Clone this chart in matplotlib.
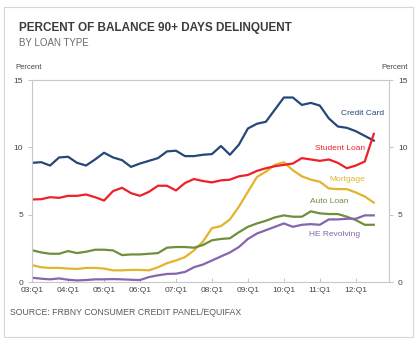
import matplotlib.pyplot as plt
from matplotlib.patches import Rectangle

# quarters 03:Q1 .. 12:Q3
QUARTERS = [f"{y:02d}:Q{q}" for y in range(3, 13) for q in range(1, 5)][:39]
TICK_LABELS = [f"{y:02d}:Q1" for y in range(3, 13)]

credit_card = [8.85, 8.9, 8.65, 9.25, 9.3, 8.85, 8.65, 9.1, 9.6, 9.25,
               9.05, 8.55, 8.8, 9.0, 9.2, 9.7, 9.75, 9.35, 9.35, 9.45,
               9.5, 10.1, 9.45, 10.2, 11.4, 11.75, 11.9, 12.8, 13.7, 13.7,
               13.15, 13.3, 13.1, 12.15, 11.55, 11.45, 11.2, 10.85, 10.5]
student_loan = [6.13, 6.15, 6.3, 6.25, 6.4, 6.4, 6.5, 6.3, 6.05, 6.75,
                7.0, 6.6, 6.4, 6.7, 7.15, 7.15, 6.8, 7.35, 7.65, 7.5,
                7.4, 7.55, 7.6, 7.85, 7.95, 8.25, 8.45, 8.6, 8.7, 8.8,
                9.2, 9.1, 9.0, 9.1, 8.85, 8.45, 8.65, 8.95, 11.0]
mortgage = [1.25, 1.1, 1.05, 1.05, 1.0, 0.97, 1.05, 1.05, 1.0, 0.87,
            0.87, 0.9, 0.9, 0.87, 1.1, 1.4, 1.6, 1.85, 2.35, 3.0,
            4.0, 4.15, 4.65, 5.6, 6.7, 7.8, 8.2, 8.7, 8.9, 8.3,
            7.85, 7.6, 7.45, 6.95, 6.9, 6.9, 6.65, 6.35, 5.9]
auto_loan = [2.36, 2.2, 2.1, 2.1, 2.3, 2.15, 2.25, 2.4, 2.4, 2.35,
             2.0, 2.05, 2.05, 2.1, 2.15, 2.55, 2.6, 2.6, 2.55, 2.75,
             3.1, 3.2, 3.25, 3.7, 4.1, 4.35, 4.55, 4.8, 4.95, 4.85,
             4.85, 5.25, 5.1, 5.05, 5.05, 4.85, 4.6, 4.25, 4.25]
he_revolving = [0.32, 0.25, 0.2, 0.27, 0.17, 0.12, 0.15, 0.2, 0.2, 0.22,
                0.2, 0.17, 0.15, 0.37, 0.5, 0.6, 0.62, 0.75, 1.1, 1.3,
                1.6, 1.9, 2.2, 2.6, 3.2, 3.6, 3.85, 4.1, 4.35, 4.1,
                4.25, 4.3, 4.25, 4.65, 4.65, 4.7, 4.7, 4.95, 4.95]

SERIES = [
    ("Credit Card", credit_card, "#25477a", (36.8, 12.5)),
    ("Mortgage", mortgage, "#e2b42b", (35.1, 7.65)),
    ("Auto Loan", auto_loan, "#6e8f3b", (33.1, 5.95)),
    ("HE Revolving", he_revolving, "#8466ad", (33.6, 3.56)),
    ("Student Loan", student_loan, "#ee2028", (34.3, 9.9)),
]

plt.rcParams['font.family'] = ['Liberation Sans', 'DejaVu Sans']

fig = plt.figure(figsize=(4.17, 3.39), dpi=100)
fig.patches.append(Rectangle((0.01, 0.006), 0.98, 0.972, transform=fig.transFigure,
                             fill=False, edgecolor="#d6d6d6", linewidth=0.8))

ax = fig.add_axes([0.077, 0.168, 0.856, 0.596])
x = list(range(len(QUARTERS)))
for label, values, color, pos in SERIES:
    ax.plot(x, values, color=color, linewidth=1.6)
    ax.text(pos[0], pos[1], label, color=color, fontsize=6, ha="center", va="center")

ax.set_xlim(0, 39.7)
ax.set_ylim(0, 15)
ax.set_xticks(range(0, 37, 4))
ax.set_xticklabels(TICK_LABELS)
ax.set_yticks([0, 5, 10, 15])
ax.tick_params(axis="both", labelsize=6, colors="#444444", length=3, width=0.6)
ax.tick_params(axis="y", right=True, labelright=True, color="#bbbbbb")
ax.tick_params(axis="x", color="#bbbbbb", direction="in")
for s in ax.spines.values():
    s.set_color("#c8c8c8")
    s.set_linewidth(0.8)

fig.text(0.046, 0.917, "PERCENT OF BALANCE 90+ DAYS DELINQUENT", fontsize=8.5,
         fontweight="bold", color="#3c3c3c", va="center")
fig.text(0.046, 0.873, "BY LOAN TYPE", fontsize=7, color="#6a6a6a", va="center")
fig.text(0.036, 0.802, "Percent", fontsize=5.5, color="#444444", va="center")
fig.text(0.978, 0.802, "Percent", fontsize=5.5, color="#444444", va="center", ha="right")
fig.text(0.024, 0.077, "SOURCE: FRBNY CONSUMER CREDIT PANEL/EQUIFAX", fontsize=6.3,
         color="#5a5a5a", va="center")

fig.savefig("out.png", dpi=100)
